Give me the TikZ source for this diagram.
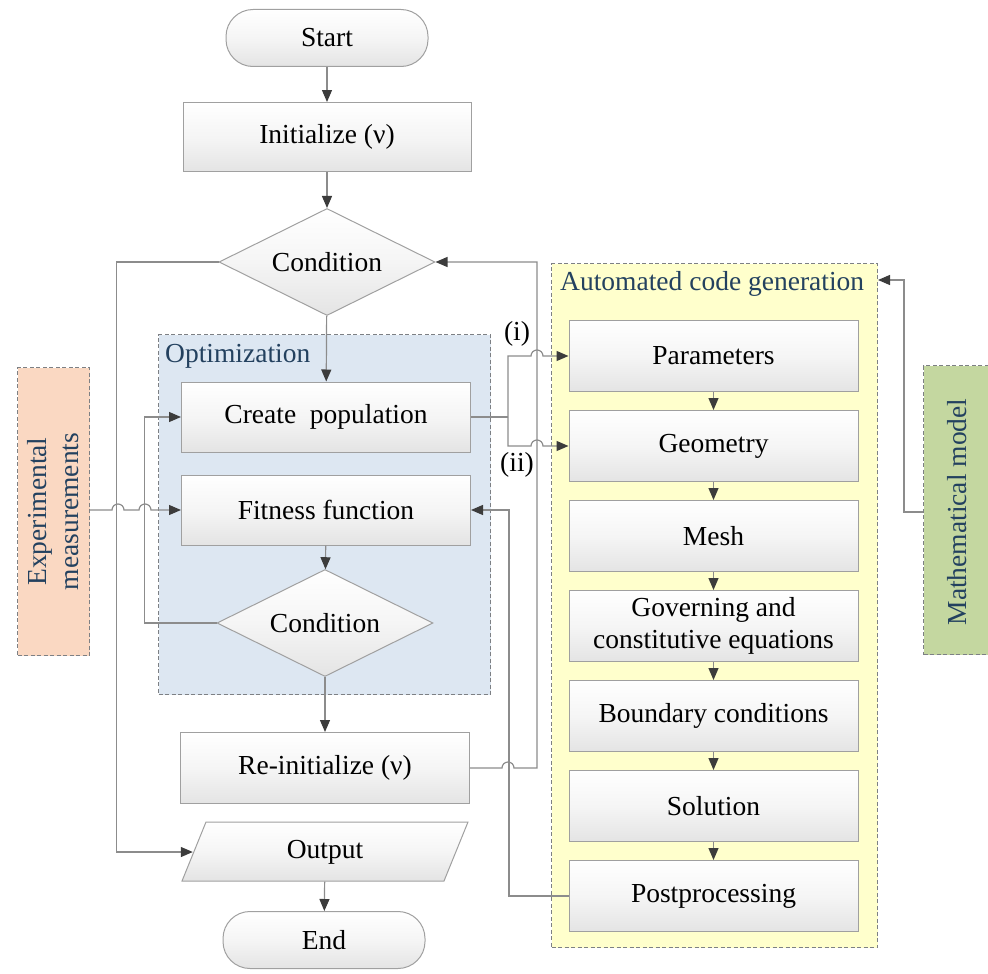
\documentclass[tikz,border=0pt]{standalone}
\usepackage{fontspec}
\setmainfont{Liberation Serif}
\usetikzlibrary{shapes.geometric,arrows.meta}
\definecolor{linec}{RGB}{140,140,140}
\definecolor{tipc}{RGB}{60,60,60}
\definecolor{boxb}{RGB}{160,160,160}
\definecolor{boxg}{RGB}{228,228,228}
\definecolor{boxm}{RGB}{245,245,245}
\definecolor{optf}{RGB}{221,231,242}
\definecolor{acgf}{RGB}{255,255,204}
\definecolor{expf}{RGB}{250,216,194}
\definecolor{mmf}{RGB}{196,215,160}
\definecolor{titc}{RGB}{35,65,95}
\definecolor{dashc}{RGB}{125,128,132}
\begin{document}
\begin{tikzpicture}[x=1pt,y=-1pt,
 every node/.style={font=\fontsize{27.5}{32}\selectfont, inner sep=0pt},
 shade3/.style={top color=white, bottom color=boxg, middle color=boxm},
 proc/.style={draw=boxb, line width=1pt, shade3, minimum width=289pt, minimum height=71pt},
 term/.style={draw=boxb, line width=1pt, shade3, rounded corners=27pt, minimum width=202pt, minimum height=57pt},
 dec/.style={draw=boxb, line width=1pt, shape=diamond, shade3, minimum width=216pt, minimum height=107pt},
 cont/.style={draw=dashc, line width=1pt, dash pattern=on 4pt off 2.5pt},
 wire/.style={draw=linec, line width=1.2pt},
 conn/.style={wire, -{Triangle[length=12pt,width=10pt,color=tipc]}},
 ttl/.style={text=titc}
]
\useasboundingbox (0,0) rectangle (988,974);

% containers
\node[cont, fill=optf, minimum width=332pt, minimum height=360pt, anchor=north west] (opt) at (158,334) {};
\node[ttl, anchor=base west] (optt) at (165,362) {Optimization};
\node[cont, fill=acgf, minimum width=326pt, minimum height=684pt, anchor=north west] (acg) at (551,263) {};
\node[ttl, anchor=base west] (acgt) at (560,290) {Automated code generation};
\node[cont, fill=expf, minimum width=72pt, minimum height=288pt, anchor=north west] (exp) at (17,367) {};
\node[ttl, rotate=90, align=center] (expt) at (exp) {Experimental\\measurements};
\node[cont, fill=mmf, minimum width=70pt, minimum height=289pt, anchor=north west] (mm) at (923,365) {};
\node[ttl, rotate=90] (mmt) at (957,512) {Mathematical model};

% main column
\node[term] (start) at (327,38) {Start};
\node[proc, minimum width=288pt, minimum height=69pt] (init) at (327,137) {Initialize (ν)};
\node[dec] (c1) at (327,262) {};
\node (c1t) at (c1) {Condition};
\node[proc, minimum height=70pt] (cp) at (326,417) {Create~~population};
\node[proc, minimum height=70pt] (fit) at (326,510) {Fitness function};
\node[dec] (c2) at (325,623) {};
\node (c2t) at (c2) {Condition};
\node[proc] (ri) at (325,768) {Re-initialize (ν)};
\path[draw=boxb, line width=1pt, shade3] (182,881) -- (206,822) -- (468,822) -- (444,881) -- cycle;
\node[minimum width=264pt, minimum height=59pt] (out) at (325,852) {Output};
\node[term] (end) at (324,940) {End};

% code generation column
\node[proc] (par) at (713.5,356) {Parameters};
\node[proc] (geo) at (713.5,446) {Geometry};
\node[proc] (mesh) at (713.5,536) {Mesh};
\node[proc, align=center] (gov) at (713.5,626) {Governing and\\constitutive equations};
\node[proc] (bc) at (713.5,716) {Boundary conditions};
\node[proc] (sol) at (713.5,806) {Solution};
\node[proc] (post) at (713.5,896) {Postprocessing};

\node (li) at (517,334) {(i)};
\node (lii) at (517,465) {(ii)};

% connectors: main flow
\draw[conn] (start) -- (init);
\draw[conn] (init) -- (c1);
\draw[conn] (c1) -- (cp);
\draw[conn] (fit) -- (c2);
\draw[conn] (c2) -- (ri);
\draw[conn] (out) -- (end);

% loops
\draw[conn] (c1.west) -- ++(-102,0) |- (out.west);
\draw[conn] (c2.west) -- ++(-72,0) |- (cp.west);
\draw[conn] (exp.east |- fit.west) -- (112,510) arc[start angle=180,end angle=0,radius=6pt] -- (139,510) arc[start angle=180,end angle=0,radius=6pt] -- (fit.west);

% create population split
\coordinate (sp) at (508,417);
\draw[wire] (cp.east) -- (sp);
\draw[conn] (sp) |- (531,356) arc[start angle=180,end angle=0,radius=6pt] -- (par.west);
\draw[conn] (sp) |- (531,446) arc[start angle=180,end angle=0,radius=6pt] -- (geo.west);

% re-initialize back to condition
\draw[conn] (ri.east) -- ++(32,0) arc[start angle=180,end angle=0,radius=6pt] -- (537,768) |- (c1.east);

% postprocessing to fitness
\draw[conn] (post.west) -| ([xshift=38pt]fit.east) -- (fit.east);

% code generation chain
\draw[conn] (par) -- (geo);
\draw[conn] (geo) -- (mesh);
\draw[conn] (mesh) -- (gov);
\draw[conn] (gov) -- (bc);
\draw[conn] (bc) -- (sol);
\draw[conn] (sol) -- (post);

% mathematical model
\draw[conn] (mm.west |- mmt) -- ++(-19,0) |- (acg.east |- 0,280);
\end{tikzpicture}
\end{document}
